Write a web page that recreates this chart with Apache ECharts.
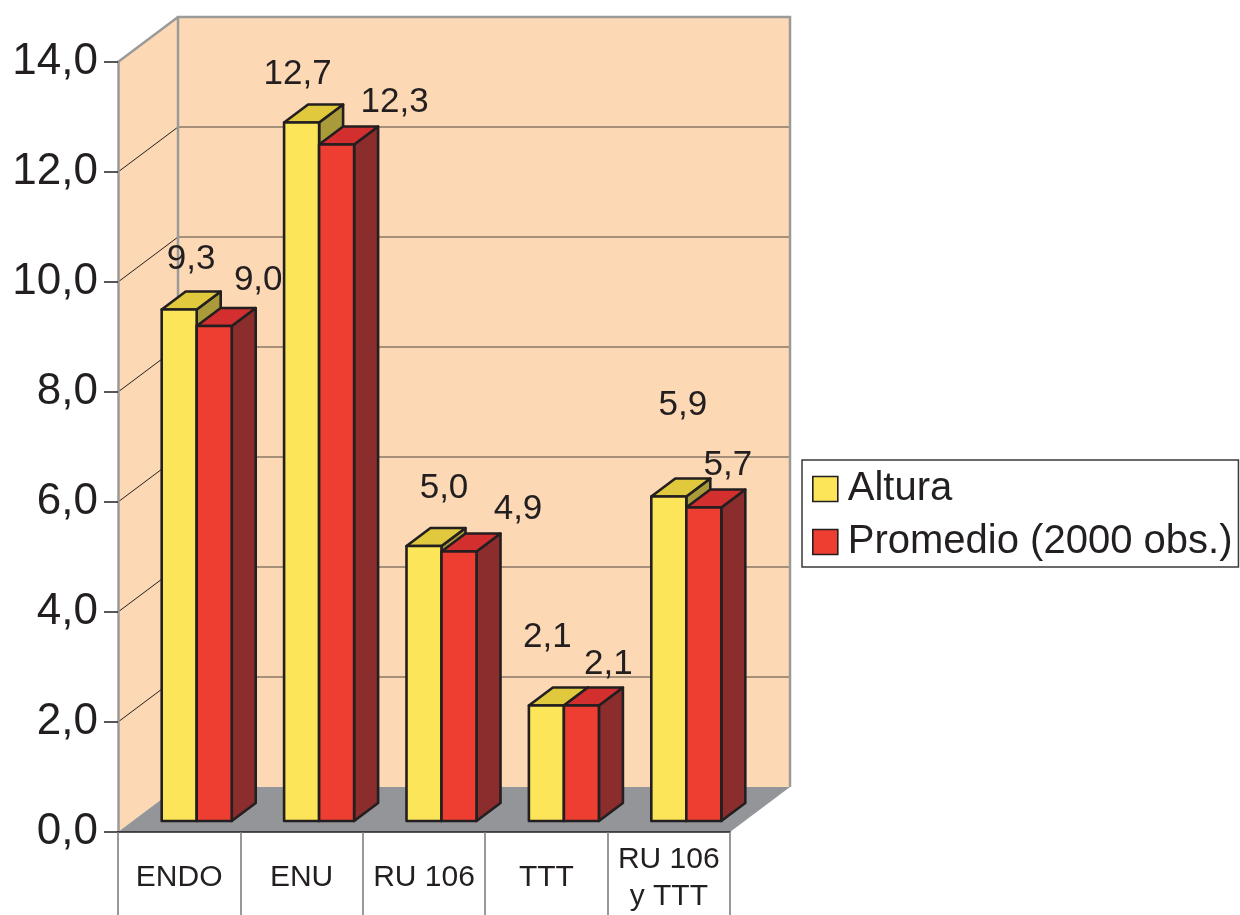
<!DOCTYPE html>
<html>
<head>
<meta charset="utf-8">
<script src="https://cdn.jsdelivr.net/npm/echarts@6/dist/echarts.min.js"></script>
<style>
  html, body { margin: 0; padding: 0; background: #ffffff; }
  #chart { width: 1240px; height: 915px; }
</style>
</head>
<body>
<div id="chart"></div>
<script>
// ---- data ----
const categories = ['ENDO', 'ENU', 'RU 106', 'TTT', 'RU 106\ny TTT'];
const altura = [9.3, 12.7, 5.0, 2.1, 5.9];
const promedio = [9.0, 12.3, 4.9, 2.1, 5.7];
const seriesNames = ['Altura', 'Promedio (2000 obs.)'];
const yTicks = [0, 2, 4, 6, 8, 10, 12, 14];

// ---- layout / style ----
const FONT = '"Liberation Sans", Arial, Helvetica, sans-serif';
const INK = '#231F20';
const WALL = '#FCD8B4';
const FLOOR = '#939598';
const FRAME = '#9A9A9A';
const DEPTH = [60, -45];          // full depth of the box (back wall offset)
const BAR_FRONT = [17.5, -11];    // offset of the bars' front faces from the axis plane
const BAR_DEPTH = [24, -18];      // thickness of each bar
const BAR_W = 0.286;              // bar width as a share of a category band
const PALETTE = [
  { front: '#FDE55A', top: '#E0C93C', side: '#A99B3A' },
  { front: '#EE3E31', top: '#D22F2E', side: '#8A2D2C' }
];
// value label offsets (centre of the text relative to the top-centre of the front face)
const labelShift = [
  [[12, -50], [-4, -48], [20, -58], [1, -68], [14, -91]],
  [[44, -46], [58, -42], [59, -42], [27, -41], [24, -42]]
];

const fmt = v => v.toFixed(1).replace('.', ',');

function renderWalls(params, api) {
  const cs = params.coordSys;
  const L = cs.x, R = cs.x + cs.width, T = cs.y, B = cs.y + cs.height;
  const dx = DEPTH[0], dy = DEPTH[1];
  const children = [];
  // back wall
  children.push({ type: 'rect', shape: { x: L + dx, y: T + dy, width: cs.width, height: cs.height },
    style: { fill: WALL, stroke: null } });
  // side wall
  children.push({ type: 'polygon', shape: { points: [[L, B], [L, T], [L + dx, T + dy], [L + dx, B + dy]] },
    style: { fill: WALL, stroke: null } });
  // grid lines on both walls
  yTicks.forEach(v => {
    if (v === yTicks[0] || v === yTicks[yTicks.length - 1]) return;
    const y = api.coord([0, v])[1];
    children.push({ type: 'line', shape: { x1: L + dx, y1: y + dy, x2: R + dx, y2: y + dy },
      style: { stroke: '#8A7866', lineWidth: 1.3 } });
    children.push({ type: 'line', shape: { x1: L, y1: y, x2: L + dx, y2: y + dy },
      style: { stroke: INK, lineWidth: 1 } });
  });
  // wall frame
  children.push({ type: 'polyline', shape: { points: [[L + dx, B + dy], [L + dx, T + dy], [R + dx, T + dy], [R + dx, B + dy]] },
    style: { fill: null, stroke: FRAME, lineWidth: 2.5 } });
  children.push({ type: 'line', shape: { x1: L, y1: T, x2: L + dx, y2: T + dy },
    style: { stroke: FRAME, lineWidth: 2.5 } });
  // floor
  children.push({ type: 'polygon', shape: { points: [[L, B], [L + dx, B + dy], [R + dx, B + dy], [R, B]] },
    style: { fill: FLOOR, stroke: null } });
  return { type: 'group', children };
}

function makeBarRenderer(s) {
  return function (params, api) {
    const idx = api.value(0);
    const val = api.value(1);
    const top = api.coord([idx, val]);
    const base = api.coord([idx, 0]);
    const w = api.size([1, 0])[0] * BAR_W;
    const x0 = top[0] + BAR_FRONT[0] + (s === 0 ? -w : 0);
    const yT = top[1] + BAR_FRONT[1];
    const yB = base[1] + BAR_FRONT[1];
    const ddx = BAR_DEPTH[0], ddy = BAR_DEPTH[1];
    const c = PALETTE[s];
    const edge = { stroke: INK, lineWidth: 2.6, lineJoin: 'round' };
    const sh = labelShift[s][params.dataIndex];
    return {
      type: 'group',
      children: [
        { type: 'polygon', shape: { points: [[x0 + w, yT], [x0 + w + ddx, yT + ddy], [x0 + w + ddx, yB + ddy], [x0 + w, yB]] },
          style: Object.assign({ fill: c.side }, edge) },
        { type: 'polygon', shape: { points: [[x0, yT], [x0 + w, yT], [x0 + w + ddx, yT + ddy], [x0 + ddx, yT + ddy]] },
          style: Object.assign({ fill: c.top }, edge) },
        { type: 'rect', shape: { x: x0, y: yT, width: w, height: yB - yT },
          style: Object.assign({ fill: c.front }, edge) },
        { type: 'text', z2: 50,
          style: { text: fmt(val), x: x0 + w / 2 + sh[0], y: yT + sh[1],
            align: 'center', verticalAlign: 'middle',
            font: '35px ' + FONT, fill: INK } }
      ]
    };
  };
}

const chart = echarts.init(document.getElementById('chart'), null, { renderer: 'canvas' });

chart.setOption({
  animation: false,
  backgroundColor: '#ffffff',
  textStyle: { fontFamily: FONT },
  grid: { left: 118, top: 62, width: 612, height: 770, outerBoundsMode: 'none' },
  legend: {
    data: seriesNames,
    orient: 'vertical',
    left: 802,
    top: 460,
    padding: [7, 6, 3, 10],
    itemGap: 9,
    itemWidth: 25,
    itemHeight: 25,
    icon: 'rect',
    borderColor: '#3A3A3A',
    borderWidth: 1.5,
    borderRadius: 0,
    itemStyle: { borderColor: INK, borderWidth: 1.6 },
    textStyle: { fontSize: 40, lineHeight: 44, color: INK, fontFamily: FONT, padding: [0, 0, 0, 5] },
    selectedMode: false
  },
  xAxis: {
    type: 'category',
    data: categories,
    boundaryGap: true,
    z: 10,
    axisLine: { show: true, lineStyle: { color: INK, width: 1.6 } },
    axisTick: { show: true, inside: false, length: 83, lineStyle: { color: '#7F7F7F', width: 1.6 } },
    axisLabel: { interval: 0, fontSize: 30, lineHeight: 37, color: INK, fontFamily: FONT,
      margin: 46, verticalAlign: 'middle' },
    splitLine: { show: false }
  },
  yAxis: {
    type: 'value',
    min: yTicks[0],
    max: yTicks[yTicks.length - 1],
    interval: yTicks[1] - yTicks[0],
    z: 10,
    axisLine: { show: true, lineStyle: { color: FRAME, width: 2.5 } },
    axisTick: { show: true, inside: false, length: 14, lineStyle: { color: INK, width: 1.5 } },
    axisLabel: { fontSize: 44, color: INK, fontFamily: FONT, margin: 20, formatter: fmt },
    splitLine: { show: false }
  },
  series: [
    {
      type: 'custom', name: 'walls', silent: true, z: 1,
      renderItem: renderWalls,
      data: [[0, 0]]
    },
    {
      type: 'custom', name: seriesNames[0], z: 3,
      itemStyle: { color: PALETTE[0].front },
      renderItem: makeBarRenderer(0),
      data: altura.map((v, i) => [i, v])
    },
    {
      type: 'custom', name: seriesNames[1], z: 4,
      itemStyle: { color: PALETTE[1].front },
      renderItem: makeBarRenderer(1),
      data: promedio.map((v, i) => [i, v])
    }
  ]
});
</script>
</body>
</html>
